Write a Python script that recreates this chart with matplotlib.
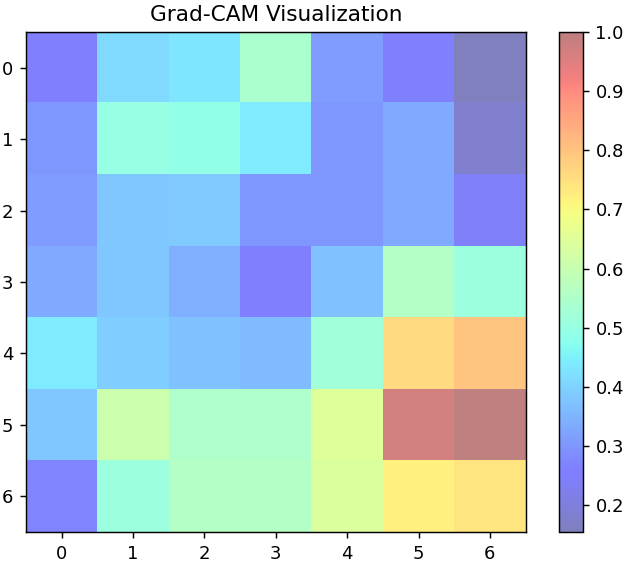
import numpy as np
import matplotlib
matplotlib.use("Agg")
import matplotlib.pyplot as plt

# Grad-CAM values per cell (rows 0..6, cols 0..6)
row0 = [0.26, 0.41, 0.43, 0.54, 0.31, 0.25, 0.155]
row1 = [0.30, 0.50, 0.49, 0.44, 0.30, 0.33, 0.18]
row2 = [0.31, 0.38, 0.385, 0.30, 0.30, 0.33, 0.24]
row3 = [0.33, 0.38, 0.34, 0.26, 0.37, 0.56, 0.51]
row4 = [0.44, 0.39, 0.37, 0.36, 0.52, 0.76, 0.80]
row5 = [0.38, 0.61, 0.55, 0.55, 0.65, 0.97, 1.0]
row6 = [0.27, 0.51, 0.56, 0.56, 0.64, 0.72, 0.74]
ticks = list(range(7))

cam = np.array([row0, row1, row2, row3, row4, row5, row6])

DPI = 130
fig = plt.figure(figsize=(630 / DPI, 566 / DPI), dpi=DPI)
ax = fig.add_axes([0.0413, 0.0601, 0.793, 0.8834])
cax = fig.add_axes([0.887, 0.0601, 0.038, 0.8834])

im = ax.imshow(cam, cmap="jet", alpha=0.5, aspect="auto")
ax.set_xticks(ticks)
ax.set_yticks(ticks)
ax.set_title("Grad-CAM Visualization")

fig.colorbar(im, cax=cax)

fig.savefig("out.png", dpi=DPI)
